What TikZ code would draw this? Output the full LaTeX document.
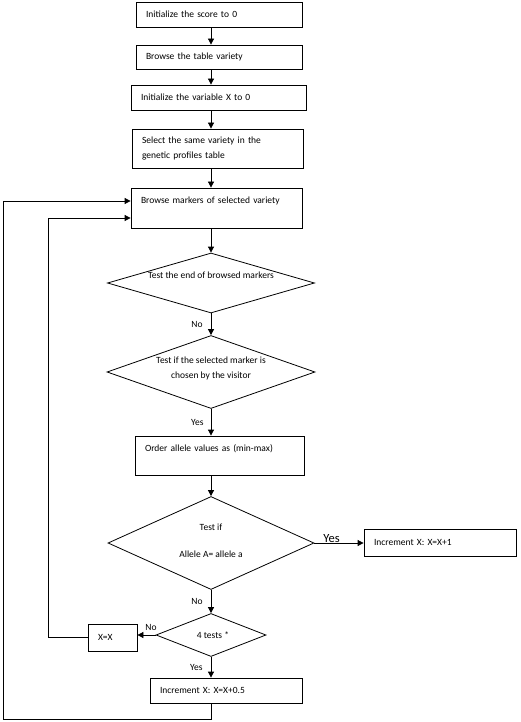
\documentclass[tikz,border=0pt]{standalone}
\usepackage{fontspec}
\setmainfont{Carlito}
\usetikzlibrary{shapes.geometric,arrows.meta}
\tikzset{
  box/.style={draw, line width=0.8pt, align=left, inner xsep=10pt, inner ysep=0pt},
  test/.style={draw, diamond, line width=0.8pt, inner sep=0pt},
  arr/.style={line width=0.8pt, -{Triangle[length=6pt,width=6pt]}},
  lbl/.style={inner sep=1pt}
}
\begin{document}
\begin{tikzpicture}[x=1pt,y=-1pt, every node/.style={font=\fontsize{9.5}{15}\selectfont}]
    \useasboundingbox (0,0) rectangle (520,722);

    % boxes
    \node[box, text width=146pt, minimum height=25pt] (score) at (219,14.5) {Initialize the score to 0};
    \node[box, text width=146pt, minimum height=24pt] (table) at (219,57) {Browse the table variety};
    \node[box, text width=155pt, minimum height=25pt] (initx) at (218.5,97.5) {Initialize the variable X to 0};
    \node[box, text width=151pt, minimum height=39pt] (select) at (217.5,148.5) {Select the same variety in the\\genetic profiles table};
    \node[box, text width=151pt, minimum height=40pt] (browse) at (216.5,208) {Browse markers of selected variety\\ \mbox{}};
    \node[box, text width=149pt, minimum height=39pt] (order) at (219.5,455.5) {Order allele values as (min-max)\\ \mbox{}};
    \node[box, text width=132pt, minimum height=27pt] (addone) at (440,542.5) {Increment X: X=X+1};
    \node[box, text width=29pt, minimum height=27pt] (same) at (112.5,637.5) {X=X};
    \node[box, text width=132pt, minimum height=25pt] (addhalf) at (226,690.5) {Increment X: X=X+0.5};

    % tests
    \node[test, minimum width=207pt, minimum height=60pt,
          label={[yshift=8pt]center:Test the end of browsed markers}] (endtest) at (211,283) {};
    \node[test, minimum width=208pt, minimum height=73pt,
          label={[align=center, yshift=4pt]center:Test if the selected marker is\\chosen by the visitor}] (chosen) at (211,372) {};
    \node[test, minimum width=206pt, minimum height=93pt,
          label={[align=center, yshift=2.5pt]center:Test if\\[12pt]Allele A= allele a}] (equal) at (211,543) {};
    \node[test, minimum width=110pt, minimum height=43pt,
          label={[xshift=2pt]center:4 tests *}] (four) at (211,635) {};

    \coordinate (inner) at (48,218);
    \coordinate (outer) at (3,719);

    % flow
    \draw[arr] (score.south -| endtest) -- (table.north -| endtest);
    \draw[arr] (table.south -| endtest) -- (initx.north -| endtest);
    \draw[arr] (initx.south -| endtest) -- (select.north -| endtest);
    \draw[arr] (select.south -| endtest) -- (browse.north -| endtest);
    \draw[arr] (browse.south -| endtest) -- (endtest.north);
    \draw[arr] (endtest.south) -- node[lbl, left=7pt]{No} (chosen.north);
    \draw[arr] (chosen.south) -- node[lbl, left=6pt]{Yes} (order.north -| chosen);
    \draw[arr] (order.south -| equal) -- (equal.north);
    \draw[arr] (equal.east) -- node[pos=0.35, above, inner sep=0pt, font=\fontsize{12.5}{12.5}\selectfont]{Yes} (equal.east -| addone.west);
    \draw[arr] (equal.south) -- node[lbl, left=7pt]{No} (four.north);
    \draw[arr] (four.west) -- node[lbl, pos=0.25, above=3pt]{No} (four.west -| same.east);
    \draw[arr] (four.south) -- node[lbl, left=7pt]{Yes} (addhalf.north -| four);

    % loops back
    \draw[arr] (same.west) -| (inner) -- ([yshift=-10pt]browse.west);
    \draw[arr] (addhalf.south -| four) |- (outer) |- ([yshift=7pt]browse.west);
\end{tikzpicture}
\end{document}
